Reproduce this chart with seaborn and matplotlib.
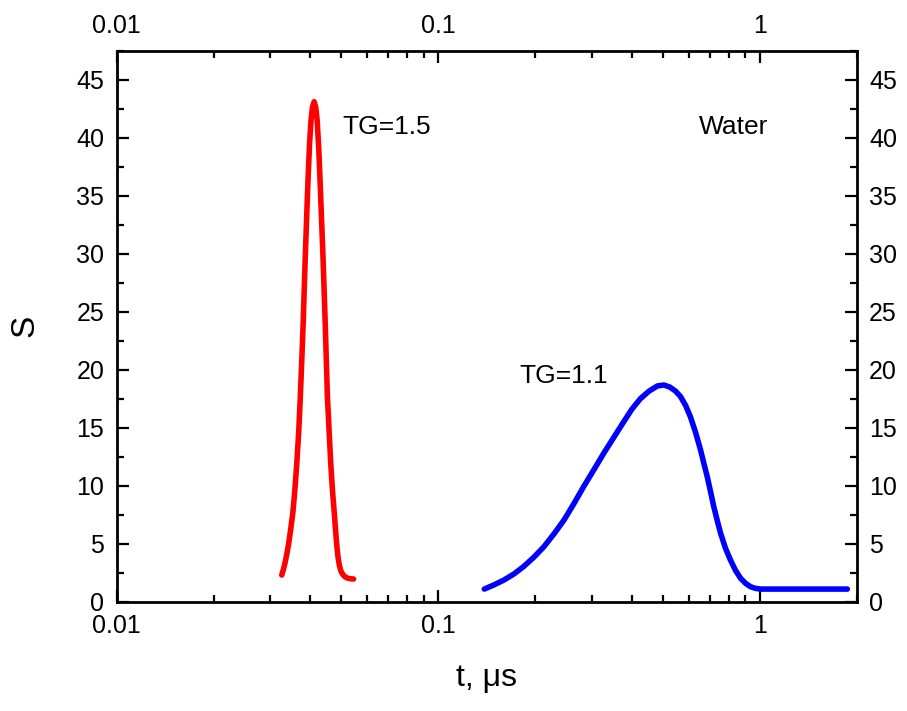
import matplotlib
matplotlib.use("Agg")
import matplotlib.pyplot as plt
import matplotlib.ticker as mticker
import numpy as np
import pandas as pd
import seaborn as sns

# ---- data ----
t_red = [0.0326, 0.0330, 0.0334, 0.0338, 0.0342, 0.0347, 0.0353, 0.0358, 0.0363,
         0.0368, 0.0372, 0.0376, 0.0380, 0.0385, 0.0390, 0.0394, 0.0398, 0.0402,
         0.0406, 0.0411, 0.0416, 0.0420, 0.0425, 0.0430, 0.0438, 0.0445, 0.0452,
         0.0458, 0.0463, 0.0469, 0.0475, 0.0480, 0.0484, 0.0488, 0.0492, 0.0497,
         0.0502, 0.0510, 0.0520, 0.0533, 0.0545]
s_red = [2.3, 2.8, 3.4, 4.1, 4.9, 6.1, 7.7, 9.6, 11.9,
         14.6, 17.4, 20.6, 24.0, 29.0, 33.5, 36.8, 39.6, 41.5,
         42.6, 43.1, 42.6, 41.5, 39.0, 35.5, 29.7, 24.0, 17.7,
         14.5, 11.9, 9.5, 7.6, 5.9, 4.7, 3.8, 3.2, 2.7,
         2.45, 2.2, 2.05, 1.98, 1.96]

t_blue = [0.139, 0.149, 0.160, 0.172, 0.184, 0.198, 0.213, 0.229, 0.246, 0.264,
          0.283, 0.305, 0.327, 0.352, 0.377, 0.400, 0.425, 0.452, 0.480, 0.503,
          0.525, 0.547, 0.567, 0.588, 0.608, 0.631, 0.654, 0.670, 0.686, 0.703,
          0.719, 0.737, 0.755, 0.782, 0.810, 0.840, 0.871, 0.903, 0.936, 0.970,
          1.005, 1.339, 1.871]
s_blue = [1.09, 1.45, 1.87, 2.40, 3.02, 3.82, 4.74, 5.85, 7.04, 8.45,
          9.91, 11.40, 12.8, 14.2, 15.5, 16.6, 17.5, 18.15, 18.6, 18.68,
          18.5, 18.15, 17.67, 16.9, 15.95, 14.6, 13.08, 11.9, 10.78, 9.45,
          8.19, 7.0, 5.9, 4.6, 3.6, 2.7, 2.02, 1.58, 1.29, 1.15,
          1.09, 1.09, 1.09]

x_ticks = [0.01, 0.1, 1]
x_tick_labels = ["0.01", "0.1", "1"]
y_major = [0, 5, 10, 15, 20, 25, 30, 35, 40, 45]

annotations = [("TG=1.5", 0.0502, 40.9), ("Water", 0.648, 40.9), ("TG=1.1", 0.179, 19.46)]

df = pd.concat([
    pd.DataFrame({"t": t_red, "S": s_red, "series": "TG=1.5"}),
    pd.DataFrame({"t": t_blue, "S": s_blue, "series": "TG=1.1"}),
], ignore_index=True)

sns.set_theme(style="ticks")
plt.rcParams["font.family"] = ["Liberation Sans", "DejaVu Sans"]

fig = plt.figure(figsize=(9.07, 7.11), dpi=100)
ax = fig.add_axes([0.1287, 0.1537, 0.8158, 0.7750])

sns.lineplot(data=df, x="t", y="S", hue="series",
             palette={"TG=1.5": "#ff0000", "TG=1.1": "#0000ff"},
             estimator=None, sort=False, linewidth=4.0, legend=False, ax=ax)
for line in ax.get_lines():
    line.set_solid_capstyle("round")
    line.set_solid_joinstyle("round")

ax.set_xscale("log")
ax.set_xlim(0.01, 2.0)
ax.set_ylim(0, 47.5)

ax.set_xticks(x_ticks)
ax.set_xticklabels(x_tick_labels)
ax.xaxis.set_minor_locator(mticker.LogLocator(base=10, subs=np.arange(2, 10)))
ax.xaxis.set_minor_formatter(mticker.NullFormatter())
ax.set_yticks(y_major)
ax.yaxis.set_minor_locator(mticker.MultipleLocator(2.5))

for sp in ax.spines.values():
    sp.set_visible(True)
    sp.set_linewidth(2.0)
    sp.set_color("black")

ax.tick_params(which="both", direction="in", top=True, right=True,
               labeltop=True, labelright=True, color="black", width=1.6,
               labelsize=18, labelcolor="black")
ax.tick_params(which="major", length=8.4)
ax.tick_params(which="minor", length=5.0)
ax.tick_params(axis="x", which="major", pad=9)
ax.tick_params(axis="y", which="major", pad=9)

ax.set_xlabel("t, μs", fontsize=23, labelpad=18, color="black")
ax.set_ylabel("S", fontsize=24, labelpad=26, color="black")

for txt, xx, yy in annotations:
    ax.text(xx, yy, txt, fontsize=19, ha="left", va="center", color="black")

ax.grid(False)
fig.savefig("out.png", dpi=100)
